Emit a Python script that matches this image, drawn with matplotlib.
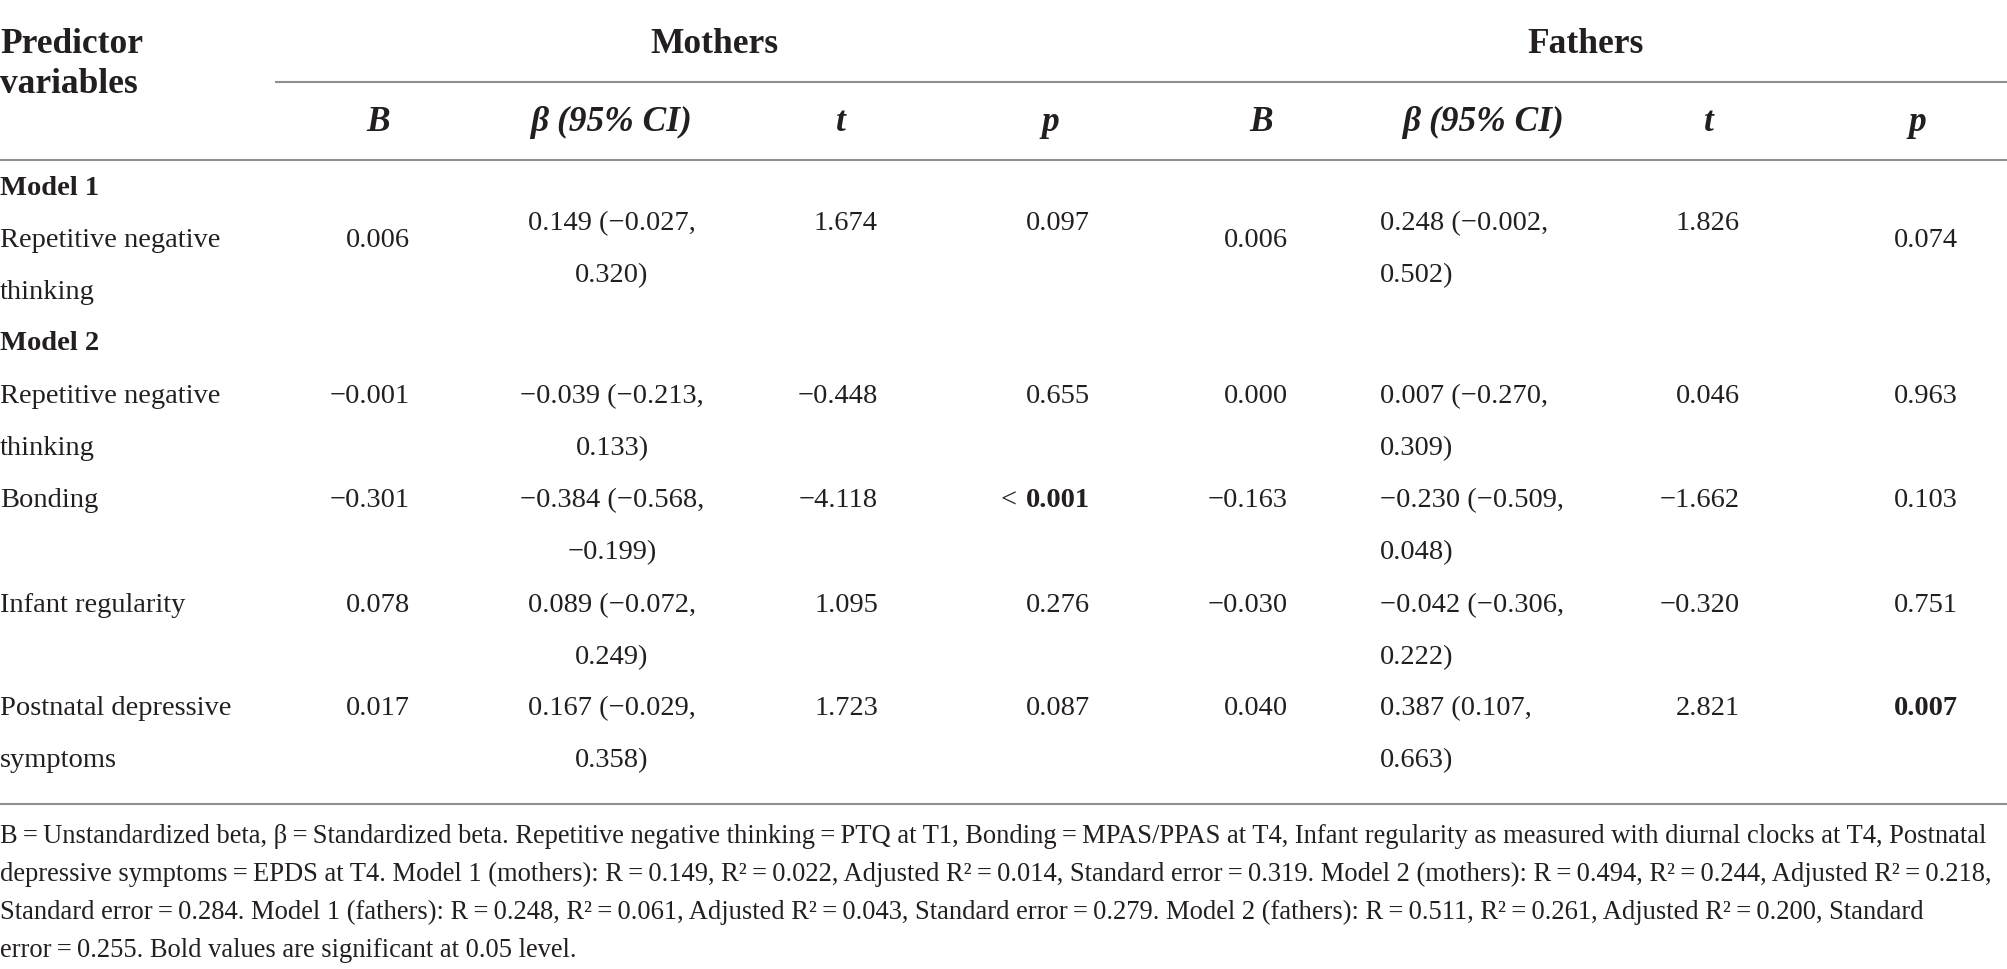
import matplotlib
matplotlib.use("Agg")
import matplotlib.pyplot as plt

plt.rcParams['font.family'] = ['Liberation Serif', 'DejaVu Serif']

# table content
groups = ["Mothers", "Fathers"]
col_heads = ["B", "β (95% CI)", "t", "p"]
sections = ["Model 1", "Model 2"]
predictors = [["Repetitive negative", "thinking"],
              ["Repetitive negative", "thinking"],
              ["Bonding"],
              ["Infant regularity"],
              ["Postnatal depressive", "symptoms"]]
row_section = [0, 1, 1, 1, 1]

mothers_B = ["0.006", "−0.001", "−0.301", "0.078", "0.017"]
mothers_beta = [["0.149 (−0.027,", "0.320)"],
                ["−0.039 (−0.213,", "0.133)"],
                ["−0.384 (−0.568,", "−0.199)"],
                ["0.089 (−0.072,", "0.249)"],
                ["0.167 (−0.029,", "0.358)"]]
mothers_t = ["1.674", "−0.448", "−4.118", "1.095", "1.723"]
mothers_p = ["0.097", "0.655", "< 0.001", "0.276", "0.087"]
mothers_sig = [False, False, True, False, False]

fathers_B = ["0.006", "0.000", "−0.163", "−0.030", "0.040"]
fathers_beta = [["0.248 (−0.002,", "0.502)"],
                ["0.007 (−0.270,", "0.309)"],
                ["−0.230 (−0.509,", "0.048)"],
                ["−0.042 (−0.306,", "0.222)"],
                ["0.387 (0.107,", "0.663)"]]
fathers_t = ["1.826", "0.046", "−1.662", "−0.320", "2.821"]
fathers_p = ["0.074", "0.963", "0.103", "0.751", "0.007"]
fathers_sig = [False, False, False, False, True]

ts = "\u2009=\u2009"
footnote = [
    f"B{ts}Unstandardized beta, β{ts}Standardized beta. Repetitive negative thinking{ts}PTQ at T1, "
    f"Bonding{ts}MPAS/PPAS at T4, Infant regularity as measured with diurnal clocks at T4, Postnatal",
    f"depressive symptoms{ts}EPDS at T4. Model 1 (mothers): R{ts}0.149, R²{ts}0.022, Adjusted R²{ts}0.014, "
    f"Standard error{ts}0.319. Model 2 (mothers): R{ts}0.494, R²{ts}0.244, Adjusted R²{ts}0.218,",
    f"Standard error{ts}0.284. Model 1 (fathers): R{ts}0.248, R²{ts}0.061, Adjusted R²{ts}0.043, "
    f"Standard error{ts}0.279. Model 2 (fathers): R{ts}0.511, R²{ts}0.261, Adjusted R²{ts}0.200, Standard",
    f"error{ts}0.255. Bold values are significant at 0.05 level.",
]

# layout (pixels)
W, H = 2008, 969
ink = "#231f20"
rule = "#8f8f8f"
head_fs = 25.5
body_fs = 20.5

group_x = [714, 1586]
head_x = [[378, 611, 841, 1050], [1261, 1483, 1709, 1917]]
# B right, beta anchor, t right, p right
cell_x = [[410, 612, 878, 1090], [1288, 1380, 1740, 1958]]
beta_ha = ["center", "left"]

row_y = [247, 403, 507, 612, 715]
section_y = [195, 350]
line_step = 52
raise_m1 = 17

fig = plt.figure(figsize=(W / 100, H / 100), dpi=100)
ax = fig.add_axes([0, 0, 1, 1])
ax.set_xlim(0, W)
ax.set_ylim(H, 0)
ax.axis('off')

# rules
ax.plot([275, W], [82, 82], color=rule, lw=1.5, solid_capstyle='butt')
ax.plot([0, W], [160, 160], color=rule, lw=1.5, solid_capstyle='butt')
ax.plot([0, W], [804, 804], color=rule, lw=1.5, solid_capstyle='butt')

# header
ax.text(0, 53, "Predictor", fontsize=head_fs, fontweight='bold', color=ink, va='baseline')
ax.text(0, 93, "variables", fontsize=head_fs, fontweight='bold', color=ink, va='baseline')
for g, name in enumerate(groups):
    ax.text(group_x[g], 53, name, fontsize=head_fs, fontweight='bold', color=ink,
            ha='center', va='baseline')
    for c, h in enumerate(col_heads):
        ax.text(head_x[g][c], 131, h, fontsize=head_fs, fontweight='bold', style='italic',
                color=ink, ha='center', va='baseline')

for s, name in enumerate(sections):
    ax.text(0, section_y[s], name, fontsize=body_fs, fontweight='bold', color=ink, va='baseline')

fig.canvas.draw()
renderer = fig.canvas.get_renderer()

def put(x, y, s, ha, bold=False):
    if s.startswith("< "):
        t = ax.text(x, y, s[2:], fontsize=body_fs, color=ink, ha=ha, va='baseline',
                    fontweight='bold' if bold else 'normal')
        bb = t.get_window_extent(renderer)
        x0 = ax.transData.inverted().transform((bb.x0, bb.y0))[0]
        ax.text(x0 - 9, y, "<", fontsize=body_fs, color=ink, ha='right', va='baseline')
    else:
        ax.text(x, y, s, fontsize=body_fs, color=ink, ha=ha, va='baseline',
                fontweight='bold' if bold else 'normal')

data = [(mothers_B, mothers_beta, mothers_t, mothers_p, mothers_sig),
        (fathers_B, fathers_beta, fathers_t, fathers_p, fathers_sig)]

for i, lab in enumerate(predictors):
    y0 = row_y[i]
    for k, line in enumerate(lab):
        ax.text(0, y0 + k * line_step, line, fontsize=body_fs, color=ink, va='baseline')
    up = raise_m1 if i == 0 else 0
    for g, (Bv, betav, tv, pv, sig) in enumerate(data):
        cx = cell_x[g]
        put(cx[0], y0, Bv[i], 'right')
        for k, line in enumerate(betav[i]):
            put(cx[1], y0 - up + k * line_step, line, beta_ha[g])
        put(cx[2], y0 - up, tv[i], 'right')
        p_up = up if g == 0 else 0
        put(cx[3], y0 - p_up, pv[i], 'right', bold=sig[i])

# footnote, sized so the widest line fits the width
foot_y = [843, 881, 919, 957]
widest = 0
for line in footnote:
    probe = ax.text(0, foot_y[0], line, fontsize=16, color=ink, va='baseline')
    widest = max(widest, probe.get_window_extent(renderer).width)
    probe.remove()
foot_fs = 16 * 1998 / widest
for y, line in zip(foot_y, footnote):
    ax.text(0, y, line, fontsize=foot_fs, color=ink, va='baseline')

fig.savefig("out.png", dpi=100, facecolor='white')
